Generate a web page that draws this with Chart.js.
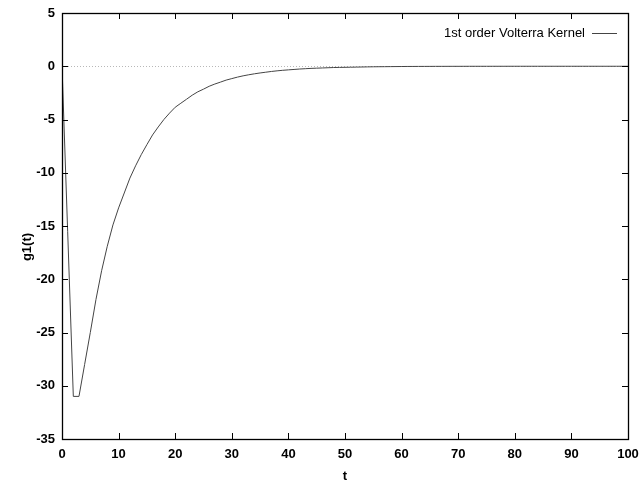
<!DOCTYPE html>
<html>
<head>
<meta charset="utf-8">
<script src="https://cdn.jsdelivr.net/npm/chart.js@4.4.1/dist/chart.umd.min.js"></script>
<style>
  html, body { margin: 0; padding: 0; background: #fff; }
  #wrap { width: 640px; height: 481px; }
</style>
</head>
<body>
<div id="wrap"><canvas id="grafico" width="640" height="481"></canvas></div>
<script>
// ----------------- DATOS -----------------
const tValues = [
  0, 1, 2, 3, 4, 5, 6, 7, 8, 9,
  10, 11, 12, 13, 14, 15, 16, 17, 18, 19,
  20, 21, 22, 23, 24, 25, 26, 27, 28, 29,
  30, 31, 32, 33, 34, 35, 36, 37, 38, 39,
  40, 41, 42, 43, 44, 45, 46, 47, 48, 49,
  50, 51, 52, 53, 54, 55, 56, 57, 58, 59,
  60, 61, 62, 63, 64, 65, 66, 67, 68, 69,
  70, 71, 72, 73, 74, 75, 76, 77, 78, 79,
  80, 81, 82, 83, 84, 85, 86, 87, 88, 89,
  90, 91, 92, 93, 94, 95, 96, 97, 98, 99, 100
];
const g1Values = [
  0, -15.5, -31.0, -31.0, -28.0, -25.0, -21.9, -19.2, -16.9, -14.9,
  -13.3, -11.9, -10.5, -9.35, -8.3, -7.36, -6.45, -5.7, -5.0, -4.4,
  -3.85, -3.47, -3.1, -2.72, -2.4, -2.15, -1.88, -1.67, -1.49, -1.3,
  -1.16, -1.02, -0.9, -0.8, -0.71, -0.63, -0.56, -0.49, -0.43, -0.38,
  -0.34, -0.3, -0.26, -0.23, -0.2, -0.18, -0.16, -0.14, -0.12, -0.11,
  -0.1, -0.09, -0.08, -0.07, -0.06, -0.05, -0.045, -0.04, -0.035, -0.03,
  -0.025, -0.02, -0.018, -0.016, -0.014, -0.012, -0.01, -0.009, -0.008, -0.007,
  -0.006, -0.005, -0.004, -0.004, -0.003, -0.003, -0.002, -0.002, -0.002, -0.001,
  -0.001, -0.001, -0.001, 0, 0, 0, 0, 0, 0, 0,
  0, 0, 0, 0, 0, 0, 0, 0, 0, 0, 0
];
const serieLabel = '1st order Volterra Kernel';
const xTitulo = 't';
const yTitulo = 'g1(t)';
const xTicks = [0, 10, 20, 30, 40, 50, 60, 70, 80, 90, 100];
const yTicks = [-35, -30, -25, -20, -15, -10, -5, 0, 5];

const puntos = tValues.map((t, i) => ({ x: t, y: g1Values[i] }));

const familia = '"Liberation Sans", Arial, sans-serif';

// ----------------- MARCO ESTILO GNUPLOT -----------------
const marcoGnuplot = {
  id: 'marcoGnuplot',
  beforeDatasetsDraw(chart) {
    const { ctx, chartArea: a, scales } = chart;
    // eje cero punteado
    const y0 = scales.y.getPixelForValue(0);
    ctx.save();
    ctx.strokeStyle = '#b8b8b8';
    ctx.lineWidth = 1;
    ctx.setLineDash([1, 2]);
    ctx.beginPath();
    ctx.moveTo(a.left, Math.round(y0) + 0.5);
    ctx.lineTo(a.right, Math.round(y0) + 0.5);
    ctx.stroke();
    ctx.restore();
  },
  afterDatasetsDraw(chart) {
    const { ctx, chartArea: a, scales } = chart;
    const tl = 6;
    ctx.save();
    ctx.strokeStyle = '#000';
    ctx.lineWidth = 1;
    ctx.beginPath();
    xTicks.forEach(v => {
      const px = Math.round(scales.x.getPixelForValue(v)) + 0.5;
      ctx.moveTo(px, a.bottom); ctx.lineTo(px, a.bottom - tl);
      ctx.moveTo(px, a.top); ctx.lineTo(px, a.top + tl);
    });
    yTicks.forEach(v => {
      const py = Math.round(scales.y.getPixelForValue(v)) + 0.5;
      ctx.moveTo(a.left, py); ctx.lineTo(a.left + tl, py);
      ctx.moveTo(a.right, py); ctx.lineTo(a.right - tl, py);
    });
    ctx.stroke();
    ctx.lineWidth = 1.3;
    ctx.strokeRect(Math.round(a.left) + 0.5, Math.round(a.top) + 0.5,
                   Math.round(a.right - a.left), Math.round(a.bottom - a.top));

    // titulos de ejes
    ctx.fillStyle = '#000';
    ctx.font = 'bold 13px ' + familia;
    ctx.textAlign = 'center';
    ctx.textBaseline = 'middle';
    ctx.fillText(xTitulo, (a.left + a.right) / 2, 476);
    ctx.save();
    ctx.translate(27, 247);
    ctx.rotate(-Math.PI / 2);
    ctx.fillText(yTitulo, 0, 0);
    ctx.restore();

    // leyenda
    ctx.font = '13px ' + familia;
    ctx.textAlign = 'right';
    ctx.fillText(serieLabel, 585, 33);
    ctx.strokeStyle = '#444';
    ctx.lineWidth = 1;
    ctx.beginPath();
    ctx.moveTo(592, 33.5); ctx.lineTo(617, 33.5);
    ctx.stroke();
    ctx.restore();
  }
};

const fuenteTicks = { family: familia, size: 13, weight: 'bold' };

new Chart(document.getElementById('grafico'), {
  type: 'line',
  data: {
    datasets: [{
      label: serieLabel,
      data: puntos,
      borderColor: '#444',
      borderWidth: 1,
      pointRadius: 0,
      tension: 0,
      fill: false
    }]
  },
  options: {
    responsive: false,
    animation: false,
    layout: { padding: { top: 13, right: 12, left: 0, bottom: 0 } },
    plugins: { legend: { display: false }, tooltip: { enabled: false } },
    scales: {
      x: {
        type: 'linear',
        min: 0, max: 100,
        afterFit: s => { s.height = 42; s.paddingLeft = 0; s.paddingRight = 0; },
        afterBuildTicks: s => { s.ticks = xTicks.map(v => ({ value: v })); },
        grid: { display: false, drawTicks: false },
        border: { display: false },
        ticks: { color: '#000', font: fuenteTicks, padding: 8, maxRotation: 0 }
      },
      y: {
        type: 'linear',
        min: -35, max: 5,
        afterFit: s => { s.width = 62; s.paddingTop = 0; s.paddingBottom = 0; },
        afterBuildTicks: s => { s.ticks = yTicks.map(v => ({ value: v })); },
        grid: { display: false, drawTicks: false },
        border: { display: false },
        ticks: { color: '#000', font: fuenteTicks, padding: 7 }
      }
    }
  },
  plugins: [marcoGnuplot]
});
</script>
</body>
</html>
